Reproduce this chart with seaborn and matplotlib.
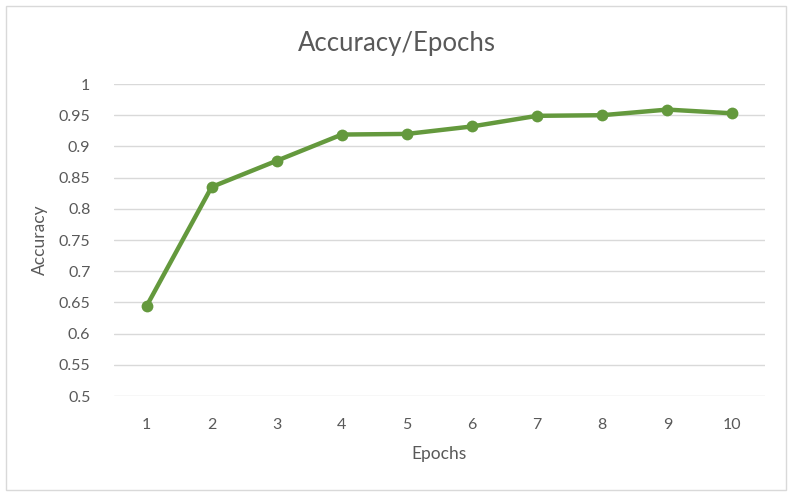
import matplotlib
matplotlib.use("Agg")
import matplotlib.pyplot as plt
import seaborn as sns
import pandas as pd
from matplotlib.patches import Rectangle

epochs = [1, 2, 3, 4, 5, 6, 7, 8, 9, 10]
accuracy = [0.644, 0.835, 0.877, 0.919, 0.920, 0.932, 0.949, 0.950, 0.959, 0.953]
y_ticks = [0.5, 0.55, 0.6, 0.65, 0.7, 0.75, 0.8, 0.85, 0.9, 0.95, 1.0]
y_tick_labels = ["0.5", "0.55", "0.6", "0.65", "0.7", "0.75", "0.8", "0.85", "0.9", "0.95", "1"]

df = pd.DataFrame({"Epochs": epochs, "Accuracy": accuracy})

sns.set_style("white")
plt.rcParams['font.family'] = ['Lato', 'DejaVu Sans']

text_color = "#595959"
grid_color = "#d9d9d9"
line_color = "#64993d"

fig = plt.figure(figsize=(7.93, 4.98), dpi=100)
ax = fig.add_axes([114 / 793, 1 - 396 / 498, 651 / 793, 312 / 498])

for t in y_ticks:
    ax.axhline(t, color=grid_color, linewidth=1.0, zorder=0)

sns.lineplot(data=df, x="Epochs", y="Accuracy", ax=ax, color=line_color,
             linewidth=3.2, marker="o", markersize=8.5, markeredgewidth=0,
             zorder=3)

ax.set_xlim(0.5, 10.5)
ax.set_ylim(0.5, 1.0)
ax.set_xticks(epochs)
ax.set_xticklabels([str(e) for e in epochs])
ax.set_yticks(y_ticks)
ax.set_yticklabels(y_tick_labels)
ax.tick_params(axis="both", length=0, labelsize=11.5, colors=text_color)
ax.tick_params(axis="y", pad=17)
ax.tick_params(axis="x", pad=16)
for s in ax.spines.values():
    s.set_visible(False)
ax.grid(False)

ax.set_xlabel("Epochs", fontsize=12.5, color=text_color, labelpad=10)
ax.set_ylabel("Accuracy", fontsize=12.5, color=text_color, labelpad=8)
fig.text(0.5, 1 - 43 / 498, "Accuracy/Epochs", ha="center", va="center",
         fontsize=18.5, color=text_color)

fig.patches.append(Rectangle((6 / 793, 1 - 490 / 498), 780 / 793, 484 / 498,
                             transform=fig.transFigure, fill=False,
                             edgecolor=grid_color, linewidth=1.0))

fig.savefig("out.png", dpi=100)
